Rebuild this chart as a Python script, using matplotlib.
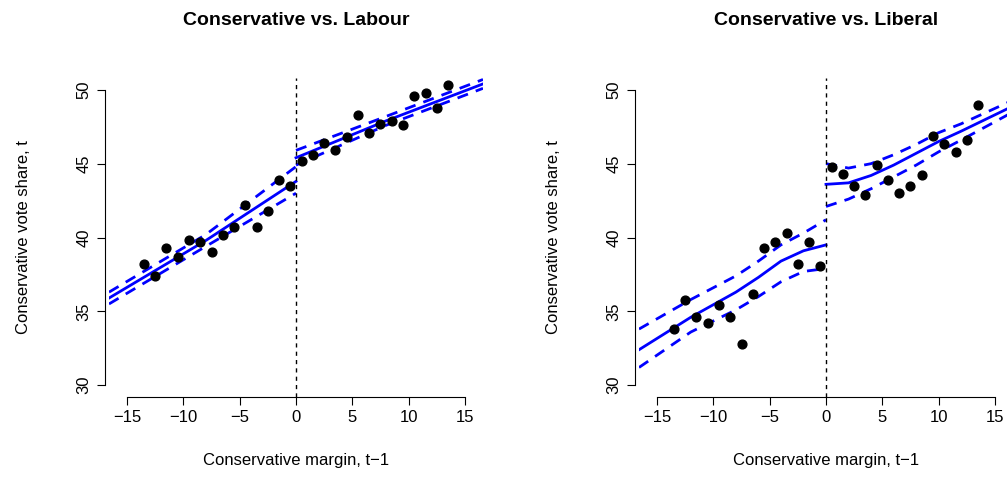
import matplotlib.pyplot as plt
import numpy as np

plt.rcParams['font.family'] = ['Liberation Sans', 'DejaVu Sans']

# ─── Data ───────────────────────────────────────────────────────────────────
bins_x = np.arange(-13.5, 14, 1.0)

lab_y = [38.2, 37.4, 39.3, 38.7, 39.8, 39.7, 39.0, 40.2, 40.7, 42.2, 40.7, 41.8, 43.9, 43.5,
         45.2, 45.6, 46.4, 45.9, 46.8, 48.3, 47.1, 47.7, 47.9, 47.6, 49.6, 49.8, 48.8, 50.3]
lib_y = [33.8, 35.8, 34.6, 34.2, 35.4, 34.6, 32.8, 36.2, 39.3, 39.7, 40.3, 38.2, 39.7, 38.1,
         44.8, 44.3, 43.5, 42.9, 44.9, 43.9, 43.0, 43.5, 44.2, 46.9, 46.3, 45.8, 46.6, 49.0]

# fitted curves (left of cutoff / right of cutoff)
lab_lx = [-16.6, -8, 0]
lab_l_fit = [35.9, 39.8, 43.8]
lab_l_hi = [36.3, 40.2, 44.8]
lab_l_lo = [35.5, 39.4, 43.0]
lab_rx = [0, 8, 16.6]
lab_r_fit = [45.4, 47.9, 50.4]
lab_r_hi = [45.9, 48.2, 50.7]
lab_r_lo = [44.9, 47.6, 50.1]

lib_lx = [-16.6, -12, -8, -6, -4, -2, 0]
lib_l_fit = [32.4, 34.6, 36.3, 37.3, 38.4, 39.1, 39.5]
lib_l_hi = [33.8, 35.8, 37.4, 38.4, 39.5, 40.3, 41.2]
lib_l_lo = [31.2, 33.6, 35.1, 36.0, 37.0, 37.7, 37.9]
lib_rx = [0, 2, 4, 6, 8, 10, 12, 16.6]
lib_r_fit = [43.6, 43.7, 44.2, 44.9, 45.7, 46.5, 47.2, 48.9]
lib_r_hi = [45.0, 44.7, 45.0, 45.6, 46.3, 47.1, 47.7, 49.3]
lib_r_lo = [42.1, 42.6, 43.3, 44.1, 44.9, 45.8, 46.6, 48.5]

titles = ["Conservative vs. Labour", "Conservative vs. Liberal"]


def panel(ax, title, ys, lx, lfit, lhi, llo, rx, rfit, rhi, rlo):
    ax.scatter(bins_x, ys, s=40, color='black', zorder=3)
    for xs, fit, hi, lo in [(lx, lfit, lhi, llo), (rx, rfit, rhi, rlo)]:
        ax.plot(xs, fit, color='blue', lw=2)
        ax.plot(xs, hi, color='blue', lw=2, ls=(0, (4, 3)))
        ax.plot(xs, lo, color='blue', lw=2, ls=(0, (4, 3)))
    ax.axvline(0, color='black', lw=1, ls=(0, (3, 3)))
    ax.set_xlim(-16.6, 16.6)
    ax.set_ylim(29.2, 50.8)
    for s in ['top', 'right']:
        ax.spines[s].set_visible(False)
    ax.spines['left'].set_bounds(30, 50)
    ax.spines['bottom'].set_bounds(-15, 15)
    ax.spines['left'].set_position(('outward', 3))
    ax.spines['bottom'].set_position(('outward', 0))
    ax.set_xticks(range(-15, 16, 5))
    ax.set_xticklabels(['\u221215', '\u221210', '\u22125', '0', '5', '10', '15'])
    ax.set_yticks(range(30, 51, 5))
    ax.tick_params(axis='y', labelrotation=90, length=6, labelsize=12)
    ax.tick_params(axis='x', length=6, labelsize=12)
    for lab in ax.get_yticklabels():
        lab.set_va('center')
    ax.set_title(title, fontsize=14, fontweight='bold', pad=38)
    ax.set_xlabel("Conservative margin, t\u22121", fontsize=12, labelpad=20)
    ax.set_ylabel("Conservative vote share, t", fontsize=12, labelpad=33)


fig = plt.figure(figsize=(10.07, 5.01), dpi=100)
ax1 = fig.add_axes([109 / 1007, 1 - 397 / 501, 374 / 1007, 319 / 501])
ax2 = fig.add_axes([639 / 1007, 1 - 397 / 501, 374 / 1007, 319 / 501])
panel(ax1, titles[0], lab_y, lab_lx, lab_l_fit, lab_l_hi, lab_l_lo,
      lab_rx, lab_r_fit, lab_r_hi, lab_r_lo)
panel(ax2, titles[1], lib_y, lib_lx, lib_l_fit, lib_l_hi, lib_l_lo,
      lib_rx, lib_r_fit, lib_r_hi, lib_r_lo)

fig.savefig("out.png", dpi=100)
